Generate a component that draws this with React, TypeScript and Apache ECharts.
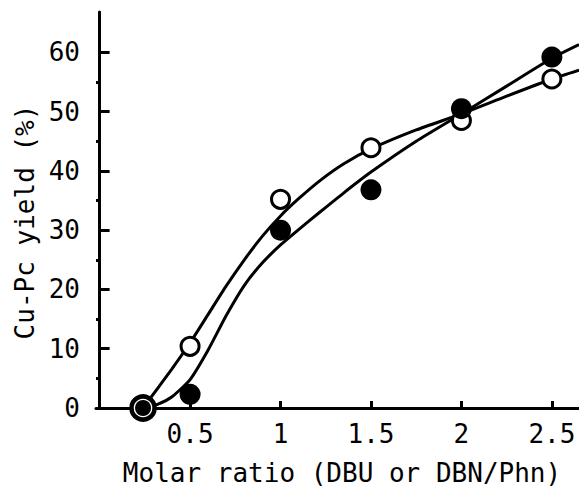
import React, { useEffect, useRef } from "react";
import * as echarts from "echarts";

// Axis ticks
const xTicks = [0.5, 1, 1.5, 2, 2.5];
const yTicks = [0, 10, 20, 30, 40, 50, 60];
const yMinorTicks = [5, 15, 25, 35, 45, 55];

// Measured points (Molar ratio, Cu-Pc yield %)
const originPoint: [number, number] = [0.24, 0];
const openPoints: [number, number][] = [
  [0.5, 10.4],
  [1.0, 35.2],
  [1.5, 43.9],
  [2.0, 48.5],
  [2.5, 55.5],
];
const filledPoints: [number, number][] = [
  [0.5, 2.3],
  [1.0, 30.0],
  [1.5, 36.8],
  [2.0, 50.5],
  [2.5, 59.2],
];

// Hand-drawn fitted curves
const openCurve: [number, number][] = [
  [0.24, 0],
  [0.4, 6.6],
  [0.5, 11.0],
  [0.6, 15.8],
  [0.7, 20.6],
  [0.8, 25.0],
  [0.9, 29.0],
  [1.0, 32.4],
  [1.1, 35.3],
  [1.22, 38.4],
  [1.35, 41.2],
  [1.5, 43.7],
  [1.75, 46.9],
  [2.0, 49.6],
  [2.25, 52.6],
  [2.5, 55.5],
  [2.65, 57.0],
];
const filledCurve: [number, number][] = [
  [0.24, 0],
  [0.32, 0.6],
  [0.4, 1.9],
  [0.5, 4.8],
  [0.6, 9.8],
  [0.7, 15.6],
  [0.8, 20.7],
  [0.9, 24.5],
  [1.0, 27.5],
  [1.1, 30.1],
  [1.22, 33.1],
  [1.35, 36.3],
  [1.5, 39.8],
  [1.75, 45.0],
  [2.0, 49.6],
  [2.25, 54.3],
  [2.5, 59.0],
  [2.65, 61.3],
];

const FONT = "DejaVu Sans Mono";
const INK = "#000";

export default function App() {
  const ref = useRef<HTMLDivElement>(null);

  useEffect(() => {
    if (!ref.current) return;
    const chart = echarts.init(ref.current, undefined, { renderer: "svg" });
    chart.setOption({
      animation: false,
      backgroundColor: "#fff",
      grid: { left: 96, top: 12, width: 483, height: 401.5 },
      xAxis: {
        type: "value",
        min: -0.02,
        max: 2.65,
        name: "Molar ratio (DBU or DBN/Phn)",
        nameLocation: "middle",
        nameGap: 52,
        nameTextStyle: {
          fontFamily: FONT,
          fontSize: 26,
          color: INK,
          padding: [0, 0, 0, 9],
        },
        axisLine: { show: true, lineStyle: { color: INK, width: 3 } },
        axisTick: {
          show: true,
          inside: true,
          length: 7,
          customValues: xTicks,
          lineStyle: { color: INK, width: 3 },
        },
        axisLabel: {
          customValues: xTicks,
          fontFamily: FONT,
          fontSize: 26,
          color: INK,
          margin: 13,
          formatter: (v: number) => String(v),
        },
        splitLine: { show: false },
      },
      yAxis: [
        {
          type: "value",
          min: 0,
          max: 66.8,
          position: "left",
          name: "Cu-Pc yield (%)",
          nameLocation: "middle",
          nameRotate: 90,
          nameGap: 56,
          nameTextStyle: {
            fontFamily: FONT,
            fontSize: 26,
            color: INK,
            padding: [0, 24, 0, 0],
          },
          axisLine: { show: true, lineStyle: { color: INK, width: 3 } },
          axisTick: {
            show: true,
            inside: true,
            length: 10,
            customValues: yTicks,
            lineStyle: { color: INK, width: 3 },
          },
          axisLabel: {
            customValues: yTicks,
            fontFamily: FONT,
            fontSize: 26,
            color: INK,
            margin: 16,
            padding: [10, 0, 0, 0],
          },
          splitLine: { show: false },
        },
        {
          type: "value",
          min: 0,
          max: 66.8,
          position: "left",
          offset: 0,
          axisLine: { show: false },
          axisTick: {
            show: true,
            inside: true,
            length: 5,
            customValues: yMinorTicks,
            lineStyle: { color: INK, width: 3 },
          },
          axisLabel: { show: false },
          splitLine: { show: false },
        },
      ],
      series: [
        {
          type: "line",
          data: openCurve,
          smooth: 0.2,
          symbol: "none",
          lineStyle: { color: INK, width: 3 },
          z: 2,
        },
        {
          type: "line",
          data: filledCurve,
          smooth: 0.2,
          symbol: "none",
          lineStyle: { color: INK, width: 3 },
          z: 2,
        },
        {
          type: "scatter",
          symbol: "circle",
          symbolSize: 18,
          itemStyle: { color: "#fff", borderColor: INK, borderWidth: 3, opacity: 1 },
          data: [
            { value: originPoint, symbolSize: 23, itemStyle: { borderWidth: 4.5 } },
            ...openPoints,
          ],
          z: 3,
        },
        {
          type: "scatter",
          symbol: "circle",
          symbolSize: 21,
          itemStyle: { color: INK, opacity: 1 },
          data: [{ value: originPoint, symbolSize: 16 }, ...filledPoints],
          z: 4,
        },
      ],
    });
    return () => chart.dispose();
  }, []);

  return (
    <div
      ref={ref}
      style={{ position: "fixed", left: 0, top: 0, width: 579, height: 491, background: "#fff" }}
    />
  );
}
